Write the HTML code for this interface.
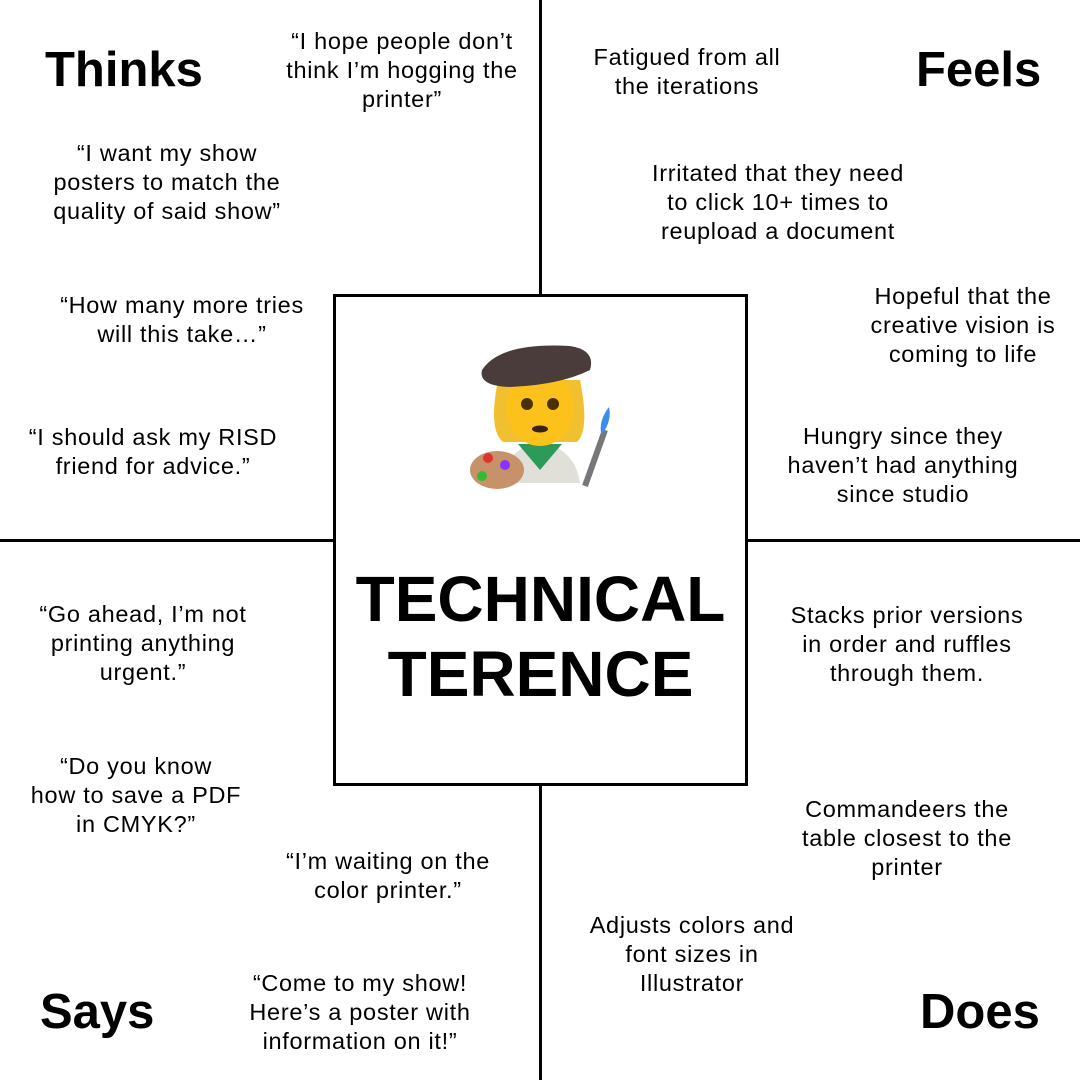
<!DOCTYPE html>
<html><head><meta charset="utf-8"><style>
body{margin:0;width:1080px;height:1080px;background:#fff;position:relative;overflow:hidden;font-family:"Liberation Sans",sans-serif;color:#000}
.l{position:absolute;background:#000}
.t{position:absolute;font-size:23.5px;line-height:29px;letter-spacing:0.7px;text-align:center;width:300px;white-space:nowrap}
.h{position:absolute;font-size:49px;font-weight:bold;line-height:56px}
</style></head><body>
<div class="l" style="left:539px;top:0;width:3px;height:295px"></div>
<div class="l" style="left:539px;top:785px;width:3px;height:295px"></div>
<div class="l" style="left:0;top:539px;width:334px;height:3px"></div>
<div class="l" style="left:746px;top:539px;width:334px;height:3px"></div>
<div style="position:absolute;left:333px;top:294px;width:409px;height:486px;border:3px solid #000"></div>
<div style="position:absolute;left:333px;top:562px;width:415px;text-align:center;font-size:64px;font-weight:bold;line-height:75px">TECHNICAL<br>TERENCE</div>
<svg style="position:absolute;left:460px;top:330px" width="160" height="170" viewBox="0 0 160 170">
<path d="M38 50 Q28 100 43 112 L117 112 Q130 100 120 50 Z" fill="#f0c030"/>
<path d="M42 153 Q45 118 80 113 Q115 118 120 153 Z" fill="#e0e0d8"/>
<path d="M58 114 L80 140 L102 114 Z" fill="#2e9a5a"/>
<ellipse cx="80" cy="78" rx="34" ry="38" fill="#fcc21b"/>
<circle cx="67" cy="74" r="6" fill="#4a3000"/><circle cx="93" cy="74" r="6" fill="#4a3000"/>
<ellipse cx="80" cy="99" rx="8" ry="3.5" fill="#3a1e10"/>
<path d="M22 40 Q40 12 110 16 Q136 20 130 40 Q100 55 50 57 Q18 56 22 40Z" fill="#4a3c3a"/>
<ellipse cx="37" cy="140" rx="27" ry="19" fill="#c7926a"/>
<circle cx="28" cy="128" r="5" fill="#d33"/><circle cx="45" cy="135" r="5" fill="#83f"/><circle cx="22" cy="146" r="5" fill="#3b3"/>
<path d="M125 156 L145 100" stroke="#777" stroke-width="6"/>
<path d="M143 103 Q152 90 149 77 Q139 90 141 103Z" fill="#3a8ee8"/>
</svg>
<div class="h" style="left:45px;top:42px">Thinks</div>
<div class="h" style="left:916px;top:42px">Feels</div>
<div class="h" style="left:40px;top:984px">Says</div>
<div class="h" style="left:920px;top:984px">Does</div>
<div class="t" style="left:252px;top:27px">“I hope people don’t<br>think I’m hogging the<br>printer”</div>
<div class="t" style="left:17px;top:139px">“I want my show<br>posters to match the<br>quality of said show”</div>
<div class="t" style="left:32px;top:291px">“How many more tries<br>will this take…”</div>
<div class="t" style="left:3px;top:423px">“I should ask my RISD<br>friend for advice.”</div>
<div class="t" style="left:537px;top:43px">Fatigued from all<br>the iterations</div>
<div class="t" style="left:628px;top:159px">Irritated that they need<br>to click 10+ times to<br>reupload a document</div>
<div class="t" style="left:813px;top:282px">Hopeful that the<br>creative vision is<br>coming to life</div>
<div class="t" style="left:753px;top:422px">Hungry since they<br>haven’t had anything<br>since studio</div>
<div class="t" style="left:-7px;top:600px">“Go ahead, I’m not<br>printing anything<br>urgent.”</div>
<div class="t" style="left:-14px;top:752px">“Do you know<br>how to save a PDF<br>in CMYK?”</div>
<div class="t" style="left:238px;top:847px">“I’m waiting on the<br>color printer.”</div>
<div class="t" style="left:210px;top:969px">“Come to my show!<br>Here’s a poster with<br>information on it!”</div>
<div class="t" style="left:757px;top:601px">Stacks prior versions<br>in order and ruffles<br>through them.</div>
<div class="t" style="left:757px;top:795px">Commandeers the<br>table closest to the<br>printer</div>
<div class="t" style="left:542px;top:911px">Adjusts colors and<br>font sizes in<br>Illustrator</div>
</body></html>
